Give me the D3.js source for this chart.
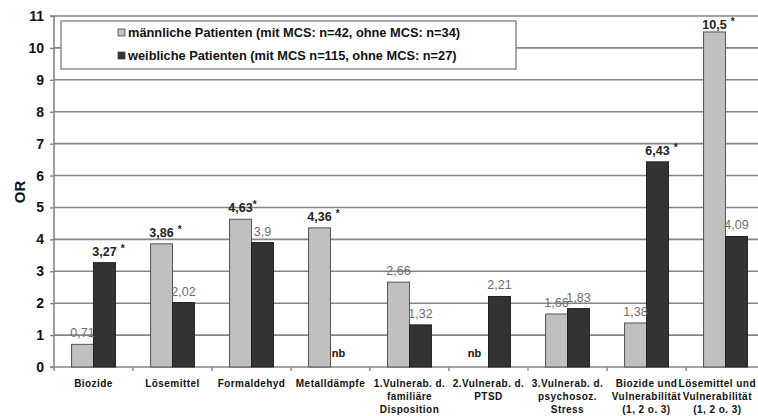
<!DOCTYPE html>
<html><head><meta charset="utf-8">
<script src="https://cdn.jsdelivr.net/npm/d3@7"></script>
<style>
html,body{margin:0;padding:0;background:#fff;}
svg{display:block;font-family:"Liberation Sans",Arial,sans-serif;}
</style></head>
<body><svg id="c" width="758" height="416"></svg>
<script>
const categories = [
  ["Biozide"],
  ["Lösemittel"],
  ["Formaldehyd"],
  ["Metalldämpfe"],
  ["1.Vulnerab. d.", "familiäre", "Disposition"],
  ["2.Vulnerab. d.", "PTSD"],
  ["3.Vulnerab. d.", "psychosoz.", "Stress"],
  ["Biozide und", "Vulnerabilität", "(1, 2 o. 3)"],
  ["Lösemittel und", "Vulnerabilität", "(1, 2 o. 3)"]
];
const maleValues   = [0.71, 3.86, 4.63, 4.36, 2.66, null, 1.66, 1.38, 10.5];
const femaleValues = [3.27, 2.02, 3.9, null, 1.32, 2.21, 1.83, 6.43, 4.09];
const maleSig   = [false, true, true, true, false, false, false, false, true];
const femaleSig = [true, false, false, false, false, false, false, true, false];
const yTicks = [0,1,2,3,4,5,6,7,8,9,10,11];
const seriesNames = ["männliche Patienten (mit MCS: n=42, ohne MCS: n=34)",
                     "weibliche Patienten (mit MCS n=115, ohne MCS: n=27)"];
const seriesKeys = ["m","f"];
const colors = {m:"#c0c0c0", f:"#333333"};

const svg = d3.select("#c");
const x0 = 54, x1 = 765, yTop = 16, yBot = 367;
const idx = categories.map((d,i)=>i);
const x = d3.scaleBand().domain(idx).range([x0,x1]).paddingInner(0).paddingOuter(0);
const xs = d3.scaleBand().domain(seriesKeys).range([0, x.bandwidth()]).paddingInner(0).paddingOuter(0.8);
const y = d3.scaleLinear().domain([0,11]).range([yBot,yTop]);

// gridlines
svg.append("g").selectAll("line").data(yTicks.filter(t=>t>0)).join("line")
  .attr("x1",x0).attr("x2",758).attr("y1",d=>y(d)).attr("y2",d=>y(d))
  .attr("stroke","#858585").attr("stroke-width",1.6);

// y axis
const yAxis = d3.axisLeft(y).tickValues(yTicks).tickSize(4).tickPadding(6).tickFormat(d3.format("d"));
const gy = svg.append("g").attr("transform",`translate(${x0},0)`).call(yAxis);
gy.select(".domain").attr("stroke","#858585").attr("stroke-width",1.6).attr("d",`M-4,${yTop}H0V${yBot}H-4`);
gy.selectAll(".tick line").attr("stroke","#858585").attr("stroke-width",1.4);
gy.selectAll(".tick text").attr("font-size",14).attr("font-weight","bold").attr("fill","#111")
  .attr("font-family","Liberation Sans, Arial, sans-serif");

// x axis
svg.append("line").attr("x1",x0).attr("x2",758).attr("y1",yBot).attr("y2",yBot)
  .attr("stroke","#858585").attr("stroke-width",1.6);
svg.append("g").selectAll("line").data(idx.concat([idx.length])).join("line")
  .attr("x1",d=>d<idx.length?x(d):x1).attr("x2",d=>d<idx.length?x(d):x1)
  .attr("y1",yBot).attr("y2",yBot+4).attr("stroke","#858585").attr("stroke-width",1.4);

const xl = svg.append("g").selectAll("text").data(idx).join("text")
  .attr("y",386.5)
  .attr("text-anchor","middle").attr("font-size",10).attr("font-weight","bold")
  .attr("letter-spacing",0.45).attr("fill","#111");
xl.each(function(d){
  const t = d3.select(this);
  let cx = x(d)+x.bandwidth()/2;
  const tsp = categories[d].map((line,k)=>
    t.append("tspan").attr("x",cx).attr("y",386.5+k*13.3).text(line));
  const maxW = d3.max(tsp, s=>s.node().getComputedTextLength());
  if (cx + maxW/2 > 756) cx = 756 - maxW/2;
  tsp.forEach(s=>s.attr("x",cx));
});

// y title
svg.append("text").attr("transform","translate(25,192) rotate(-90)")
  .attr("text-anchor","middle").attr("font-size",15).attr("font-weight","bold").attr("fill","#111").text("OR");

// bars
const data = [];
idx.forEach(i=>{
  data.push({i, k:"m", v:maleValues[i], sig:maleSig[i]});
  data.push({i, k:"f", v:femaleValues[i], sig:femaleSig[i]});
});
svg.append("g").selectAll("rect").data(data.filter(d=>d.v!=null)).join("rect")
  .attr("x",d=>x(d.i)+xs(d.k)).attr("width",xs.bandwidth())
  .attr("y",d=>y(d.v)).attr("height",d=>y(0)-y(d.v))
  .attr("fill",d=>colors[d.k]).attr("stroke",d=>d.k==="m"?"#555":"#222").attr("stroke-width",1);

// value labels
const fmt = v => String(v).replace(".",",");
const lab = svg.append("g");
data.filter(d=>d.v!=null).forEach(d=>{
  const cx = x(d.i)+xs(d.k)+xs.bandwidth()/2;
  const off = d.v>10 ? 3 : 7;
  const t = lab.append("text").attr("x",cx).attr("y",y(d.v)-off)
    .attr("text-anchor","middle").attr("font-size",12.5)
    .attr("font-weight",d.sig?"bold":"normal").attr("fill",d.sig?"#222":"#6e6e6e")
    .text(fmt(d.v));
  if(d.sig){
    const w = t.node().getComputedTextLength();
    lab.append("text").attr("x",cx+w/2+ (d.i===2?0:4)).attr("y",y(d.v)-off-4)
      .attr("font-size",10).attr("font-weight","bold").attr("fill","#222").text("*");
  }
});
data.filter(d=>d.v==null).forEach(d=>{
  const cx = x(d.i)+xs(d.k)+xs.bandwidth()/2 - 3;
  lab.append("text").attr("x",cx).attr("y",357).attr("text-anchor","middle")
    .attr("font-size",11).attr("font-weight","bold").attr("fill","#111").text("nb");
});

// legend
const lg = svg.append("g");
lg.append("rect").attr("x",61).attr("y",21).attr("width",455).attr("height",48)
  .attr("fill","#fff").attr("stroke","#858585").attr("stroke-width",1.4);
seriesKeys.forEach((k,j)=>{
  const yy = 37 + j*23;
  lg.append("rect").attr("x",118).attr("y",yy-8).attr("width",7).attr("height",7)
    .attr("fill",colors[k]).attr("stroke","#444").attr("stroke-width",0.8);
  lg.append("text").attr("x",128).attr("y",yy).attr("font-size",12.8).attr("font-weight","bold")
    .attr("fill","#111").text(seriesNames[j]);
});
</script></body></html>
